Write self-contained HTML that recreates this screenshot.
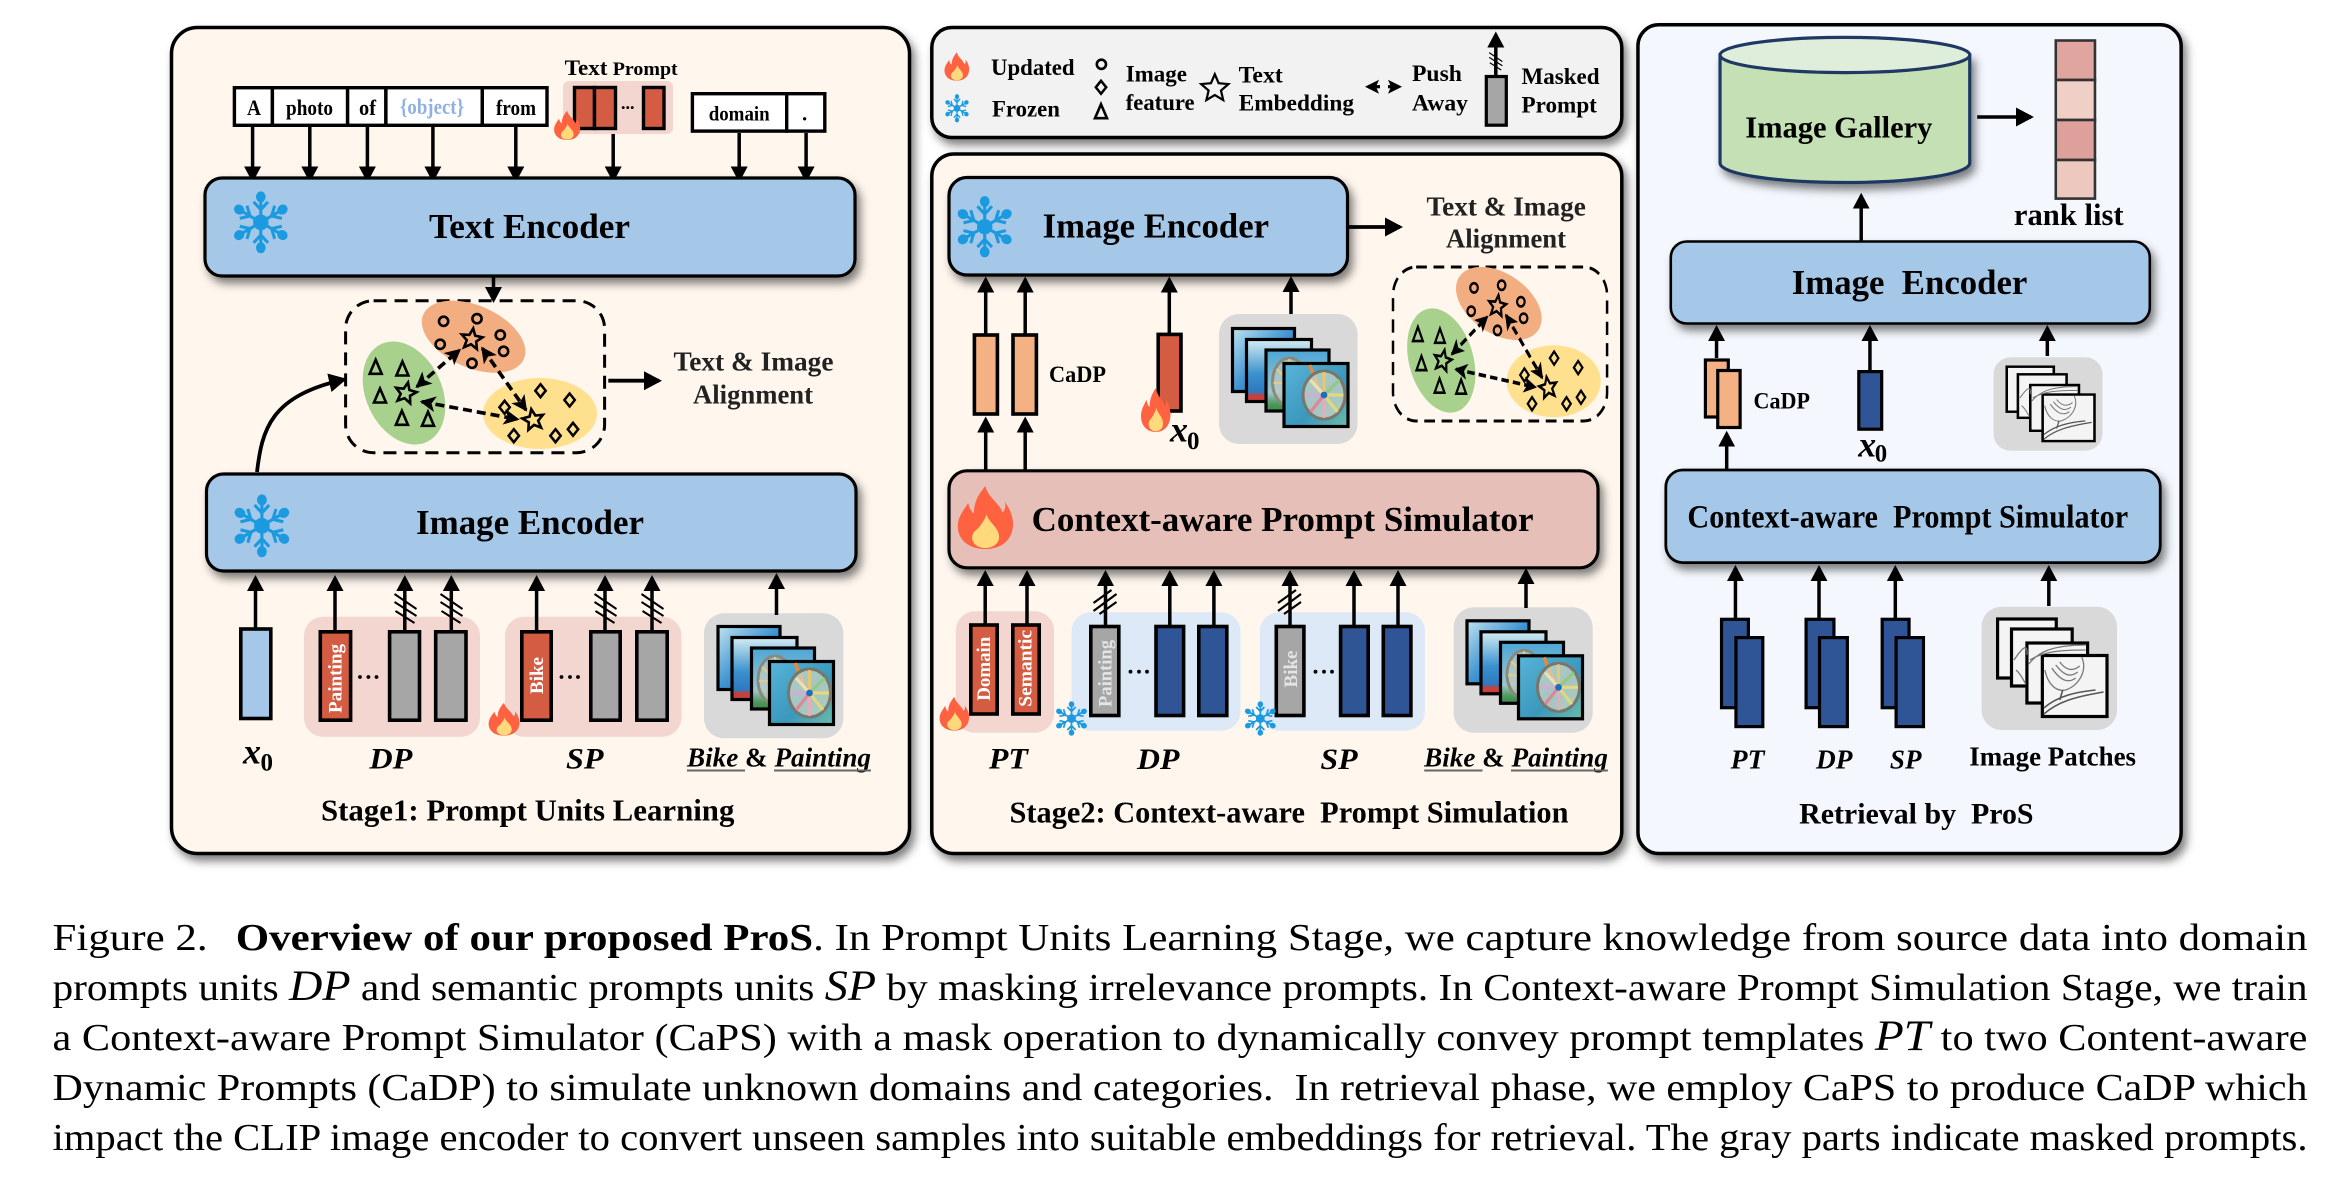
<!DOCTYPE html>
<html><head><meta charset="utf-8"><title>Overview of ProS</title>
<style>
html,body{margin:0;padding:0;background:#fff}
svg{display:block}
text{font-family:"Liberation Serif",serif;fill:#000}
.b{font-weight:bold}
.i{font-style:italic;font-weight:bold}
.w{fill:#fff;font-weight:bold;font-size:19px}
.cap{font-size:38.5px}
.m{font-style:italic;font-size:43px}
</style></head><body>
<svg width="2352" height="1193" viewBox="0 0 2352 1193" xmlns="http://www.w3.org/2000/svg">
<defs>
<filter id="sh" x="-10%" y="-10%" width="125%" height="130%"><feDropShadow dx="4" dy="6" stdDeviation="4.5" flood-color="#000" flood-opacity=".5"/></filter>
<marker id="a" markerUnits="userSpaceOnUse" markerWidth="18" markerHeight="18" refX="13" refY="9" orient="auto"><path d="M0 .5L16 9L0 17.5z"/></marker>
<marker id="a2" markerUnits="userSpaceOnUse" markerWidth="20" markerHeight="20" refX="15" refY="10" orient="auto"><path d="M0 .5L18 10L0 19.5z"/></marker>
<marker id="d" markerUnits="userSpaceOnUse" markerWidth="18" markerHeight="16" refX="14" refY="8" orient="auto-start-reverse"><path d="M0 0L16 8L0 16L4 8z"/></marker>
<marker id="k" markerUnits="userSpaceOnUse" markerWidth="16" markerHeight="16" refX="11" refY="8" orient="auto-start-reverse"><path d="M0 1L14 8L0 15L3 8z"/></marker>
<linearGradient id="g1" x1="0" y1="0" x2="1" y2="1"><stop offset="0" stop-color="#bfe2ef"/><stop offset=".5" stop-color="#3f94d2"/><stop offset="1" stop-color="#1e5fb0"/></linearGradient>
<linearGradient id="g2" x1="0" y1="0" x2="0" y2="1"><stop offset="0" stop-color="#d6edf2"/><stop offset=".55" stop-color="#3a92cf"/><stop offset=".85" stop-color="#2f78be"/><stop offset=".9" stop-color="#c8403c"/><stop offset="1" stop-color="#c8403c"/></linearGradient>
<linearGradient id="g3" x1="0" y1="0" x2="0" y2="1"><stop offset="0" stop-color="#4ba6d6"/><stop offset=".7" stop-color="#9ec6cf"/><stop offset=".88" stop-color="#4f9a5c"/><stop offset="1" stop-color="#3b8a4e"/></linearGradient>
<linearGradient id="g4" x1="0" y1="0" x2="1" y2="1"><stop offset="0" stop-color="#58b4d8"/><stop offset=".6" stop-color="#3a98bc"/><stop offset="1" stop-color="#6cbcaa"/></linearGradient>
<symbol id="flame" viewBox="0 0 100 130" preserveAspectRatio="none">
<path fill="#ff6240" d="M50 0C55 25 75 35 80 55C85 48 86 42 84 33C95 50 100 70 98 85C95 115 75 130 50 130C25 130 3 115 2 85C1 65 12 50 20 35C22 45 25 52 30 57C30 30 40 15 50 0Z"/>
<path fill="#ffd97c" d="M52 58C55 75 74 85 74 105C74 120 62 128 50 128C36 128 26 118 27 105C28 92 38 90 42 80C45 75 50 68 52 58Z"/>
</symbol>
<symbol id="snow" viewBox="-30 -32 60 64" preserveAspectRatio="none">
<g fill="#1b9ae0" stroke="#1b9ae0">
<circle r="8" stroke="none"/>
<g id="sp"><path d="M0 0V-24M-7.5 -21L0 -13L7.5 -21" fill="none" stroke-width="3.2"/><ellipse cy="-26" rx="5" ry="5.6" stroke="none"/></g>
<use href="#sp" transform="rotate(60)"/><use href="#sp" transform="rotate(120)"/><use href="#sp" transform="rotate(180)"/><use href="#sp" transform="rotate(240)"/><use href="#sp" transform="rotate(300)"/>
</g>
</symbol>
<path id="star" d="M0 -11L2.94 -4.05L10.46 -3.4L4.76 1.55L6.47 8.9L0 5L-6.47 8.9L-4.76 1.55L-10.46 -3.4L-2.94 -4.05Z" fill="none" stroke="#000" stroke-width="2.6" stroke-linejoin="miter"/>
<circle id="o" r="4.6" fill="none" stroke="#000" stroke-width="2.6"/>
<path id="dm" d="M0 -6.5L5.2 0L0 6.5L-5.2 0Z" fill="none" stroke="#000" stroke-width="2.5"/>
<path id="tr" d="M0 -7.5L6 6.5L-6 6.5Z" fill="none" stroke="#000" stroke-width="2.6"/>
<g id="h1" stroke="#000" stroke-width="2" fill="none"><path d="M-11 -14L11 1M-11 -6L11 8M-10 3L9 15"/></g>
<g id="h2" stroke="#000" stroke-width="2.2" fill="none"><path d="M-12 1L6 -12M-12 9L11 -8M-6 12L11 0"/></g>

<g id="cluster">
<rect x="345.6" y="300.7" width="259" height="152" rx="28" fill="none" stroke="#000" stroke-width="3" stroke-dasharray="13 8"/>
<ellipse cx="473.6" cy="336.7" rx="55" ry="31" transform="rotate(24 473.6 336.7)" fill="#f2ae80"/>
<ellipse cx="404" cy="393" rx="54" ry="38" transform="rotate(65 404 393)" fill="#a9d18e"/>
<ellipse cx="540" cy="413.5" rx="57" ry="35.5" fill="#ffe08f"/>
<use href="#o" x="443.6" y="321.3"/><use href="#o" x="477" y="318.7"/><use href="#o" x="500.3" y="335"/><use href="#o" x="440.2" y="344.3"/><use href="#o" x="503.6" y="351.3"/><use href="#o" x="472" y="363.3"/>
<use href="#tr" x="375.7" y="367.3"/><use href="#tr" x="402.4" y="369"/><use href="#tr" x="380" y="396"/><use href="#tr" x="401.9" y="418.3"/><use href="#tr" x="428" y="419.3"/>
<use href="#dm" x="540.5" y="390.7"/><use href="#dm" x="569.6" y="400"/><use href="#dm" x="504.6" y="407.3"/><use href="#dm" x="513.8" y="435.7"/><use href="#dm" x="555.5" y="435.7"/><use href="#dm" x="573" y="429.3"/>
<use href="#star" transform="translate(471.7 339.3) rotate(8)"/>
<use href="#star" transform="translate(405.7 393.3) rotate(12)"/>
<use href="#star" transform="translate(533.2 420) rotate(-10)"/>
<g stroke="#000" stroke-width="3.6" fill="none" stroke-dasharray="9 5">
<path d="M416.9 386.7L459.5 350" marker-start="url(#d)" marker-end="url(#d)"/>
<path d="M482.3 348.3L526 410" marker-start="url(#d)" marker-end="url(#d)"/>
<path d="M421.7 401.7L517.7 419.3" marker-start="url(#d)" marker-end="url(#d)"/>
</g>
</g>

<g id="pics">
<g stroke="#000" stroke-width="3.2">
<rect x="718" y="626.5" width="62" height="63" fill="url(#g1)"/>
<rect x="732" y="637.5" width="65" height="62" fill="url(#g2)"/>
<rect x="751.5" y="648" width="63" height="61" fill="url(#g3)"/>
</g>
<g fill="none">
<ellipse cx="775" cy="680" rx="17" ry="24" fill="#c8ccc0" fill-opacity=".6" stroke="#8a8a7a" stroke-width="3"/>
<path d="M775 657V703M762 667L789 692M759 681H790" stroke="#e4c98a" stroke-width="2.2"/>
</g>
<rect x="769.5" y="661.5" width="64" height="63" fill="url(#g4)" stroke="#000" stroke-width="3.2"/>
<g fill="none">
<path d="M795 663L806 690" stroke="#e88a3c" stroke-width="3.5"/>
<ellipse cx="809.5" cy="693" rx="21" ry="24" fill="#d4d8c4" fill-opacity=".7" stroke="#77776b" stroke-width="3"/>
<g stroke-width="3.2" stroke-opacity=".85">
<path d="M809.5 693V670" stroke="#f0c860"/><path d="M809.5 693L825 678" stroke="#8fc87a"/><path d="M809.5 693H829" stroke="#f0dc70"/>
<path d="M809.5 693L823 710" stroke="#e8dc70"/><path d="M809.5 693V716" stroke="#f0a8b8"/><path d="M809.5 693L796 710" stroke="#e87a90"/>
<path d="M809.5 693H790" stroke="#d8a8d4"/><path d="M809.5 693L796 678" stroke="#f4e4b0"/>
</g>
<circle cx="809.5" cy="693" r="3.4" fill="#1c6fc0"/>
</g>
</g>

<g id="sk">
<g stroke="#000" stroke-width="3.2" fill="#f4f4f4">
<rect x="1999.5" y="619" width="59" height="59"/>
<rect x="2013.5" y="629" width="61" height="57"/>
<rect x="2029" y="643" width="61" height="60"/>
<rect x="2044.5" y="655.5" width="65" height="61"/>
</g>
<g fill="none" stroke="#777" stroke-width="1.3">
<path d="M2016 660C2024 648 2030 642 2029 655M2018 670C2024 675 2026 682 2028 684"/>
<path d="M2031 664C2040 652 2055 645 2088 645M2032 660C2045 652 2060 650 2088 650"/>
<path d="M2084 657C2090 670 2082 685 2068 690C2058 692 2050 684 2047 670"/>
<path d="M2054 668C2062 680 2070 684 2078 678M2058 665C2066 675 2072 678 2080 672M2062 662C2068 670 2075 672 2082 666"/>
<path d="M2046 708C2060 696 2078 692 2098 690M2046 714C2060 702 2076 697 2106 692M2065 690L2062 700" stroke-width="1.6" stroke="#555"/>
</g>
</g>
</defs>

<!-- Panel 1 -->
<rect x="171.5" y="27.5" width="738" height="826" rx="26" fill="#fff7ee" stroke="#000" stroke-width="3.5" filter="url(#sh)"/>

<g fill="#fff" stroke="#000" stroke-width="3.4">
<rect x="234.4" y="87.7" width="38" height="37.6"/>
<rect x="272.4" y="87.7" width="75.2" height="37.6"/>
<rect x="347.6" y="87.7" width="38.3" height="37.6"/>
<rect x="385.9" y="87.7" width="96.4" height="37.6"/>
<rect x="482.3" y="87.7" width="64.7" height="37.6"/>
<rect x="692.4" y="93.7" width="94.3" height="37.4"/>
<rect x="786.7" y="93.7" width="38.1" height="37.4"/>
</g>
<text class="b" font-size="22" x="247" y="115" textLength="14" lengthAdjust="spacingAndGlyphs">A</text>
<text class="b" font-size="22" x="286" y="115" textLength="47" lengthAdjust="spacingAndGlyphs">photo</text>
<text class="b" font-size="22" x="359" y="115" textLength="17" lengthAdjust="spacingAndGlyphs">of</text>
<text class="b" font-size="22" x="400" y="114" textLength="64" lengthAdjust="spacingAndGlyphs" style="fill:#8fb0e0">{object}</text>
<text class="b" font-size="22" x="496" y="115" textLength="40" lengthAdjust="spacingAndGlyphs">from</text>
<text class="b" font-size="21" x="708.7" y="120.7" textLength="61" lengthAdjust="spacingAndGlyphs">domain</text>
<text class="b" font-size="21" x="802" y="120.7">.</text>
<text class="b" x="564.7" y="75" textLength="113" lengthAdjust="spacingAndGlyphs" font-size="20"><tspan font-size="22">Text</tspan> <tspan font-size="19">Prompt</tspan></text>

<rect x="563" y="81" width="110" height="53" rx="6" fill="#f4d6d0"/>
<g fill="#d45c42" stroke="#000" stroke-width="3.4">
<rect x="574.5" y="87.5" width="20" height="41"/><rect x="594.5" y="87.5" width="21" height="41"/><rect x="643.5" y="87.5" width="20.5" height="41"/>
</g>
<text class="b" font-size="18" x="621" y="109">...</text>
<use href="#flame" x="553.6" y="110.7" width="27" height="29.3"/>

<g stroke="#000" stroke-width="3.5" fill="none">
<path d="M252.6 127V179.5" marker-end="url(#a)"/><path d="M309.8 127V179.5" marker-end="url(#a)"/><path d="M367.4 127V179.5" marker-end="url(#a)"/><path d="M432.9 127V179.5" marker-end="url(#a)"/><path d="M515.8 127V179.5" marker-end="url(#a)"/><path d="M613.2 134V179.5" marker-end="url(#a)"/><path d="M739.2 133V179.5" marker-end="url(#a)"/><path d="M806.1 133V179.5" marker-end="url(#a)"/>
</g>

<rect x="205" y="178" width="650" height="98" rx="17" fill="#a6c8e8" stroke="#000" stroke-width="3.2" filter="url(#sh)"/>
<text class="b" font-size="35" x="429" y="238" textLength="201" lengthAdjust="spacingAndGlyphs">Text Encoder</text>
<use href="#snow" x="232" y="191" width="57.6" height="62.6"/>
<path d="M493.5 277V300" stroke="#000" stroke-width="3.5" marker-end="url(#a)"/>

<use href="#cluster"/>
<path d="M608.3 380.7H659" stroke="#000" stroke-width="3.8" marker-end="url(#a2)"/>
<text class="b" font-size="27" x="673.5" y="370.7" textLength="160" lengthAdjust="spacingAndGlyphs" style="fill:#222">Text &amp; Image</text>
<text class="b" font-size="27" x="693" y="403.3" textLength="120" lengthAdjust="spacingAndGlyphs" style="fill:#222">Alignment</text>
<path d="M257 472C262 430 270 396 344 379.5" fill="none" stroke="#000" stroke-width="3.8" marker-end="url(#a2)"/>

<rect x="206.5" y="474" width="649.5" height="97" rx="17" fill="#a6c8e8" stroke="#000" stroke-width="3.2" filter="url(#sh)"/>
<text class="b" font-size="35" x="416" y="534" textLength="228" lengthAdjust="spacingAndGlyphs">Image Encoder</text>
<use href="#snow" x="232.6" y="494" width="58.6" height="63.6"/>

<rect x="304" y="616.7" width="176" height="120" rx="19" fill="#f4d6d0"/>
<rect x="505" y="616.7" width="176.5" height="120" rx="19" fill="#f4d6d0"/>
<rect x="704" y="613.3" width="139.4" height="125" rx="20" fill="#d9d9d9"/>

<g stroke="#000" stroke-width="3.5" fill="none">
<path d="M255.5 628V578" marker-end="url(#a)"/><path d="M335 631V578" marker-end="url(#a)"/><path d="M404.8 631V578" marker-end="url(#a)"/><path d="M451.3 631V578" marker-end="url(#a)"/><path d="M536.6 631V578" marker-end="url(#a)"/><path d="M605 631V578" marker-end="url(#a)"/><path d="M652 631V578" marker-end="url(#a)"/><path d="M776.5 615V576" marker-end="url(#a)"/>
</g>
<use href="#h1" x="405.5" y="608"/><use href="#h1" x="451.5" y="608"/><use href="#h1" x="605.5" y="608"/><use href="#h1" x="652.5" y="608"/>

<g stroke="#000" stroke-width="3.6">
<rect x="240.8" y="629" width="30" height="89.5" fill="#a6c8e8"/>
<rect x="320.3" y="631.8" width="30.3" height="88.4" fill="#d45c42"/>
<rect x="389.6" y="631.8" width="29.9" height="88.4" fill="#a6a6a6"/>
<rect x="435.7" y="631.8" width="30.3" height="88.4" fill="#a6a6a6"/>
<rect x="521.8" y="631.8" width="29.4" height="88.4" fill="#d45c42"/>
<rect x="590.8" y="631.8" width="29.4" height="88.4" fill="#a6a6a6"/>
<rect x="636.8" y="631.8" width="30.4" height="88.4" fill="#a6a6a6"/>
</g>
<text class="w" transform="translate(341.5 713) rotate(-90)" textLength="69" lengthAdjust="spacingAndGlyphs">Painting</text>
<text class="w" transform="translate(543 694) rotate(-90)" textLength="37" lengthAdjust="spacingAndGlyphs">Bike</text>
<g fill="#000"><circle cx="360" cy="677" r="1.9"/><circle cx="368.4" cy="677" r="1.9"/><circle cx="376.5" cy="677" r="1.9"/><circle cx="561.5" cy="677" r="1.9"/><circle cx="570" cy="677" r="1.9"/><circle cx="578" cy="677" r="1.9"/></g>
<use href="#flame" x="488" y="702.7" width="32" height="33"/>
<use href="#pics"/>

<text class="i" font-size="36" x="243" y="763.3">x</text><text font-size="25" x="260.5" y="770.7" class="b">0</text>
<text class="i" font-size="30" x="369.4" y="768.3" textLength="43" lengthAdjust="spacingAndGlyphs">DP</text>
<text class="i" font-size="30" x="566" y="768.3" textLength="37.5" lengthAdjust="spacingAndGlyphs">SP</text>
<text class="b" font-size="27" x="687" y="766.7" textLength="184" lengthAdjust="spacingAndGlyphs"><tspan font-style="italic">Bike</tspan> &amp; <tspan font-style="italic">Painting</tspan></text>
<path d="M687 770.5H745M774 770.5H871" stroke="#666" stroke-width="2"/>
<text class="b" font-size="30.5" x="321" y="820.7" textLength="413.4" lengthAdjust="spacingAndGlyphs">Stage1: Prompt Units Learning</text>

<!-- Legend -->
<rect x="931.8" y="27.5" width="690" height="110" rx="20" fill="#f2f2f2" stroke="#000" stroke-width="3.5" filter="url(#sh)"/>
<use href="#flame" x="944" y="52.3" width="25.6" height="28.4"/>
<use href="#snow" x="944.5" y="94" width="25" height="28.6"/>
<g font-size="23.5" font-weight="bold">
<text x="991" y="75" textLength="83.6" lengthAdjust="spacingAndGlyphs" class="b">Updated</text>
<text x="992" y="116.7" textLength="68" lengthAdjust="spacingAndGlyphs" class="b">Frozen</text>
<text x="1125.7" y="81.7" textLength="61.3" lengthAdjust="spacingAndGlyphs" class="b">Image</text>
<text x="1125.7" y="110" textLength="68.9" lengthAdjust="spacingAndGlyphs" class="b">feature</text>
<text x="1238.7" y="82.3" textLength="44.1" lengthAdjust="spacingAndGlyphs" class="b">Text</text>
<text x="1238.7" y="110.7" textLength="115.3" lengthAdjust="spacingAndGlyphs" class="b">Embedding</text>
<text x="1412" y="81" textLength="49.9" lengthAdjust="spacingAndGlyphs" class="b">Push</text>
<text x="1412" y="110.7" textLength="56" lengthAdjust="spacingAndGlyphs" class="b">Away</text>
<text x="1521.5" y="84" textLength="78.1" lengthAdjust="spacingAndGlyphs" class="b">Masked</text>
<text x="1521.5" y="112.7" textLength="75.4" lengthAdjust="spacingAndGlyphs" class="b">Prompt</text>
</g>
<use href="#o" x="1101.4" y="64.3"/><use href="#dm" x="1101" y="87.3"/><use href="#tr" x="1101" y="111.7"/>
<path transform="translate(1214.8 88.5) scale(1.3)" d="M0 -11L2.94 -4.05L10.46 -3.4L4.76 1.55L6.47 8.9L0 5L-6.47 8.9L-4.76 1.55L-10.46 -3.4L-2.94 -4.05Z" fill="none" stroke="#000" stroke-width="1.7"/>
<path d="M1368 86.7H1380" stroke="#000" stroke-width="3.2" marker-start="url(#k)"/>
<path d="M1388 86.7H1399" stroke="#000" stroke-width="3.2" marker-end="url(#k)"/>
<path d="M1495.8 76V34.5" stroke="#000" stroke-width="3.5" marker-end="url(#a)"/>
<use href="#h1" transform="translate(1495.8 61) scale(.6)"/>
<rect x="1486.3" y="76.5" width="20" height="48.7" fill="#a6a6a6" stroke="#000" stroke-width="3.2"/>

<!-- Panel 2 -->
<rect x="931.8" y="154" width="690" height="699.5" rx="22" fill="#fff7ee" stroke="#000" stroke-width="3.5" filter="url(#sh)"/>
<rect x="949" y="177.5" width="398.5" height="97.5" rx="18" fill="#a6c8e8" stroke="#000" stroke-width="3.2" filter="url(#sh)"/>
<text class="b" font-size="35" x="1042.6" y="237.7" textLength="226.4" lengthAdjust="spacingAndGlyphs">Image Encoder</text>
<use href="#snow" x="955.7" y="195.7" width="58" height="62"/>
<path d="M1348 227H1400" stroke="#000" stroke-width="3.8" marker-end="url(#a2)"/>
<text class="b" font-size="27" x="1426.5" y="215.7" textLength="159.3" lengthAdjust="spacingAndGlyphs" style="fill:#222">Text &amp; Image</text>
<text class="b" font-size="27" x="1446" y="247.7" textLength="120" lengthAdjust="spacingAndGlyphs" style="fill:#222">Alignment</text>
<use href="#cluster" transform="translate(1393 267) scale(.8266 1.013) translate(-345.6 -300.7)"/>

<g stroke="#000" stroke-width="3.5" fill="none">
<path d="M985.7 334V279.5" marker-end="url(#a)"/><path d="M1025.2 334V279.5" marker-end="url(#a)"/><path d="M1169.3 334V279.5" marker-end="url(#a)"/><path d="M1291 315V279" marker-end="url(#a)"/>
<path d="M985.7 471V419.5" marker-end="url(#a)"/><path d="M1025.2 471V419.5" marker-end="url(#a)"/>
</g>
<g stroke="#000" stroke-width="3.6">
<rect x="974.4" y="335" width="23" height="79" fill="#f4b183"/>
<rect x="1013" y="335" width="23.4" height="79" fill="#f4b183"/>
<rect x="1158.2" y="334.4" width="22.8" height="76.6" fill="#d45c42"/>
</g>
<text class="b" font-size="23.5" x="1049" y="382" textLength="57" lengthAdjust="spacingAndGlyphs">CaDP</text>
<use href="#flame" x="1140.4" y="388" width="30.6" height="44"/>
<text class="i" font-size="36" x="1170" y="441.7">x</text><text class="b" font-size="25" x="1187" y="449">0</text>
<rect x="1219" y="314" width="138.6" height="130" rx="20" fill="#d9d9d9"/>
<use href="#pics" transform="translate(514.5 -298)"/>

<rect x="949" y="470.8" width="649" height="97" rx="18" fill="#e6c0b8" stroke="#000" stroke-width="3.2" filter="url(#sh)"/>
<use href="#flame" x="956.7" y="486" width="57.3" height="63"/>
<text class="b" font-size="35" x="1031.6" y="531" textLength="501.9" lengthAdjust="spacingAndGlyphs">Context-aware Prompt Simulator</text>

<rect x="955.8" y="611.3" width="98.2" height="121.4" rx="19" fill="#f4d6d0"/>
<rect x="1071.5" y="612.3" width="169" height="118.4" rx="19" fill="#dde9f6"/>
<rect x="1259.8" y="612.3" width="165.2" height="118.4" rx="19" fill="#dde9f6"/>
<rect x="1453.6" y="607.3" width="139.1" height="125.4" rx="20" fill="#d9d9d9"/>
<g stroke="#000" stroke-width="3.5" fill="none">
<path d="M985.2 624V573" marker-end="url(#a)"/><path d="M1027 624V573" marker-end="url(#a)"/><path d="M1105.5 626V573" marker-end="url(#a)"/><path d="M1169.8 626V573" marker-end="url(#a)"/><path d="M1213.9 626V573" marker-end="url(#a)"/><path d="M1290 626V573" marker-end="url(#a)"/><path d="M1354 626V573" marker-end="url(#a)"/><path d="M1398 626V573" marker-end="url(#a)"/><path d="M1526 608V571" marker-end="url(#a)"/>
</g>
<use href="#h2" x="1105.5" y="602"/><use href="#h2" x="1290" y="602"/>
<g stroke="#000" stroke-width="3.6">
<rect x="970.8" y="625" width="26.4" height="89" fill="#d45c42"/>
<rect x="1012.8" y="625" width="26.4" height="89" fill="#d45c42"/>
<rect x="1090.8" y="626.5" width="28" height="89" fill="#a6a6a6"/>
<rect x="1156" y="626.5" width="27.6" height="89" fill="#2f5597"/>
<rect x="1198.8" y="626.5" width="28" height="89" fill="#2f5597"/>
<rect x="1276.3" y="626.5" width="27.6" height="89" fill="#a6a6a6"/>
<rect x="1340.6" y="626.5" width="27.6" height="89" fill="#2f5597"/>
<rect x="1383.3" y="626.5" width="27.6" height="89" fill="#2f5597"/>
</g>
<text class="w" transform="translate(990 700.7) rotate(-90)" textLength="64" lengthAdjust="spacingAndGlyphs">Domain</text>
<text class="w" transform="translate(1031.5 706.7) rotate(-90)" textLength="76.7" lengthAdjust="spacingAndGlyphs">Semantic</text>
<text class="w" transform="translate(1111.5 707) rotate(-90)" textLength="67" lengthAdjust="spacingAndGlyphs" style="fill:#e4e4e4">Painting</text>
<text class="w" transform="translate(1297 687.5) rotate(-90)" textLength="37" lengthAdjust="spacingAndGlyphs" style="fill:#e4e4e4">Bike</text>
<g fill="#000"><circle cx="1130.5" cy="671.7" r="1.9"/><circle cx="1139" cy="671.7" r="1.9"/><circle cx="1147" cy="671.7" r="1.9"/><circle cx="1315.5" cy="671.7" r="1.9"/><circle cx="1324" cy="671.7" r="1.9"/><circle cx="1332" cy="671.7" r="1.9"/></g>
<use href="#flame" x="939" y="696.7" width="30.6" height="34"/>
<use href="#snow" x="1055" y="701" width="33" height="35"/>
<use href="#snow" x="1243.8" y="701" width="33" height="35"/>
<use href="#pics" transform="translate(749 -5.7)"/>

<text class="i" font-size="30" x="988.9" y="768.3" textLength="39" lengthAdjust="spacingAndGlyphs">PT</text>
<text class="i" font-size="30" x="1137" y="769" textLength="42.4" lengthAdjust="spacingAndGlyphs">DP</text>
<text class="i" font-size="30" x="1320.4" y="769" textLength="37.2" lengthAdjust="spacingAndGlyphs">SP</text>
<text class="b" font-size="27" x="1424.2" y="766.7" textLength="183.7" lengthAdjust="spacingAndGlyphs"><tspan font-style="italic">Bike</tspan> &amp; <tspan font-style="italic">Painting</tspan></text>
<path d="M1424.2 770.5H1482.5M1511 770.5H1607.9" stroke="#666" stroke-width="2"/>
<text class="b" font-size="30.5" x="1009.5" y="822.3" textLength="559" lengthAdjust="spacingAndGlyphs" xml:space="preserve">Stage2: Context-aware  Prompt Simulation</text>

<!-- Panel 3 -->
<g transform="translate(1630 0) scale(.9948 1) translate(-1630 0)">
<rect x="1638" y="24.8" width="546" height="828.7" rx="21" fill="#f4f8fe" stroke="#000" stroke-width="3.5" filter="url(#sh)"/>
<g filter="url(#sh)">
<path d="M1720.5 55V163C1720.5 174 1776 182.5 1846 182.5C1916 182.5 1971.5 174 1971.5 163V55Z" fill="#c5e0b4" stroke="#1f3864" stroke-width="3.2"/>
</g>
<ellipse cx="1846" cy="55" rx="125.5" ry="17.6" fill="#dfeeda" stroke="#1f3864" stroke-width="3.2"/>
<text class="b" font-size="31" x="1745.8" y="137.3" textLength="188.2" lengthAdjust="spacingAndGlyphs">Image Gallery</text>
<path d="M1979 117H2033" stroke="#000" stroke-width="3.5" marker-end="url(#a2)"/>
<g stroke="#333" stroke-width="2.6">
<rect x="2058" y="40.5" width="39.4" height="39.5" fill="#dfa59e"/>
<rect x="2058" y="80" width="39.4" height="40" fill="#f0d0c6"/>
<rect x="2058" y="120" width="39.4" height="40" fill="#dda09a"/>
<rect x="2058" y="160" width="39.4" height="38.6" fill="#ecc8bf"/>
</g>
<text class="b" font-size="31" x="2015.9" y="225" textLength="110.3" lengthAdjust="spacingAndGlyphs">rank list</text>
<path d="M1862.4 241V195.7" stroke="#000" stroke-width="3.5" marker-end="url(#a)"/>
<rect x="1671" y="241.5" width="481.5" height="82" rx="16" fill="#a6c8e8" stroke="#000" stroke-width="2.6" filter="url(#sh)"/>
<text class="b" font-size="35" x="1792.6" y="294" textLength="236.8" lengthAdjust="spacingAndGlyphs" xml:space="preserve">Image  Encoder</text>
<g stroke="#000" stroke-width="3.5" fill="none">
<path d="M1717 358V328" marker-end="url(#a)"/><path d="M1871.2 371V328" marker-end="url(#a)"/><path d="M2049.5 356V328" marker-end="url(#a)"/><path d="M1727.2 469V433.7" marker-end="url(#a)"/>
</g>
<g stroke="#000" stroke-width="3.2">
<rect x="1705.8" y="360" width="23" height="57" fill="#f4b183"/>
<rect x="1718.2" y="370.5" width="22.5" height="57" fill="#f4b183"/>
<rect x="1860" y="371.6" width="23" height="57.6" fill="#2f5597"/>
</g>
<text class="b" font-size="23" x="1754.2" y="408.3" textLength="56.7" lengthAdjust="spacingAndGlyphs">CaDP</text>
<text class="i" font-size="36" x="1859.5" y="456.7">x</text><text class="b" font-size="25" x="1876" y="461.7">0</text>
<rect x="1995.4" y="357.3" width="109.6" height="93.4" rx="17" fill="#d9d9d9"/>
<use href="#sk" transform="translate(2007.5 365.7) scale(.802 .763) translate(-1998 -617.7)"/>

<rect x="1666" y="470" width="497" height="92.6" rx="17" fill="#a6c8e8" stroke="#000" stroke-width="2.8" filter="url(#sh)"/>
<text class="b" font-size="33" x="1687.7" y="527.3" textLength="443" lengthAdjust="spacingAndGlyphs" xml:space="preserve">Context-aware  Prompt Simulator</text>
<g stroke="#000" stroke-width="3.5" fill="none">
<path d="M1736 618V568" marker-end="url(#a)"/><path d="M1820 618V568" marker-end="url(#a)"/><path d="M1896.7 618V568" marker-end="url(#a)"/><path d="M2051 606V568" marker-end="url(#a)"/>
</g>
<g stroke="#000" stroke-width="3.2" fill="#2f5597">
<rect x="1722" y="619.3" width="27" height="88.4"/><rect x="1736.5" y="637.6" width="27" height="89"/>
<rect x="1807" y="619.3" width="28" height="88.4"/><rect x="1820.5" y="637.6" width="28" height="89"/>
<rect x="1883.5" y="619.3" width="27" height="88.4"/><rect x="1897.5" y="637.6" width="27.5" height="89"/>
</g>
<rect x="1983.4" y="606.7" width="136.2" height="123.3" rx="20" fill="#d9d9d9"/>
<use href="#sk"/>
<text class="i" font-size="27" x="1731.2" y="768.3" textLength="34" lengthAdjust="spacingAndGlyphs">PT</text>
<text class="i" font-size="27" x="1817" y="768.3" textLength="36.6" lengthAdjust="spacingAndGlyphs">DP</text>
<text class="i" font-size="27" x="1891.3" y="768.3" textLength="31.7" lengthAdjust="spacingAndGlyphs">SP</text>
<text class="b" font-size="27" x="1971" y="765.7" textLength="167.7" lengthAdjust="spacingAndGlyphs">Image Patches</text>
<text class="b" font-size="30" x="1800" y="823.3" textLength="235.7" lengthAdjust="spacingAndGlyphs" xml:space="preserve">Retrieval by  ProS</text>
</g>

<!-- Caption -->
<g>
<text class="cap" x="52.5" y="950" textLength="2255" lengthAdjust="spacingAndGlyphs" xml:space="preserve">Figure 2.  <tspan font-weight="bold" dx="6">Overview of our proposed ProS</tspan>. In Prompt Units Learning Stage, we capture knowledge from source data into domain</text>
<text class="cap" x="52.5" y="1000" textLength="2255" lengthAdjust="spacingAndGlyphs">prompts units <tspan class="m">DP</tspan> and semantic prompts units <tspan class="m">SP</tspan> by masking irrelevance prompts. In Context-aware Prompt Simulation Stage, we train</text>
<text class="cap" x="52.5" y="1050" textLength="2255" lengthAdjust="spacingAndGlyphs">a Context-aware Prompt Simulator (CaPS) with a mask operation to dynamically convey prompt templates <tspan class="m">PT</tspan> to two Content-aware</text>
<text class="cap" x="52.5" y="1100" textLength="2255" lengthAdjust="spacingAndGlyphs" xml:space="preserve">Dynamic Prompts (CaDP) to simulate unknown domains and categories.  In retrieval phase, we employ CaPS to produce CaDP which</text>
<text class="cap" x="52.5" y="1150" textLength="2255" lengthAdjust="spacingAndGlyphs">impact the CLIP image encoder to convert unseen samples into suitable embeddings for retrieval. The gray parts indicate masked prompts.</text>
</g>
</svg>
</body></html>
